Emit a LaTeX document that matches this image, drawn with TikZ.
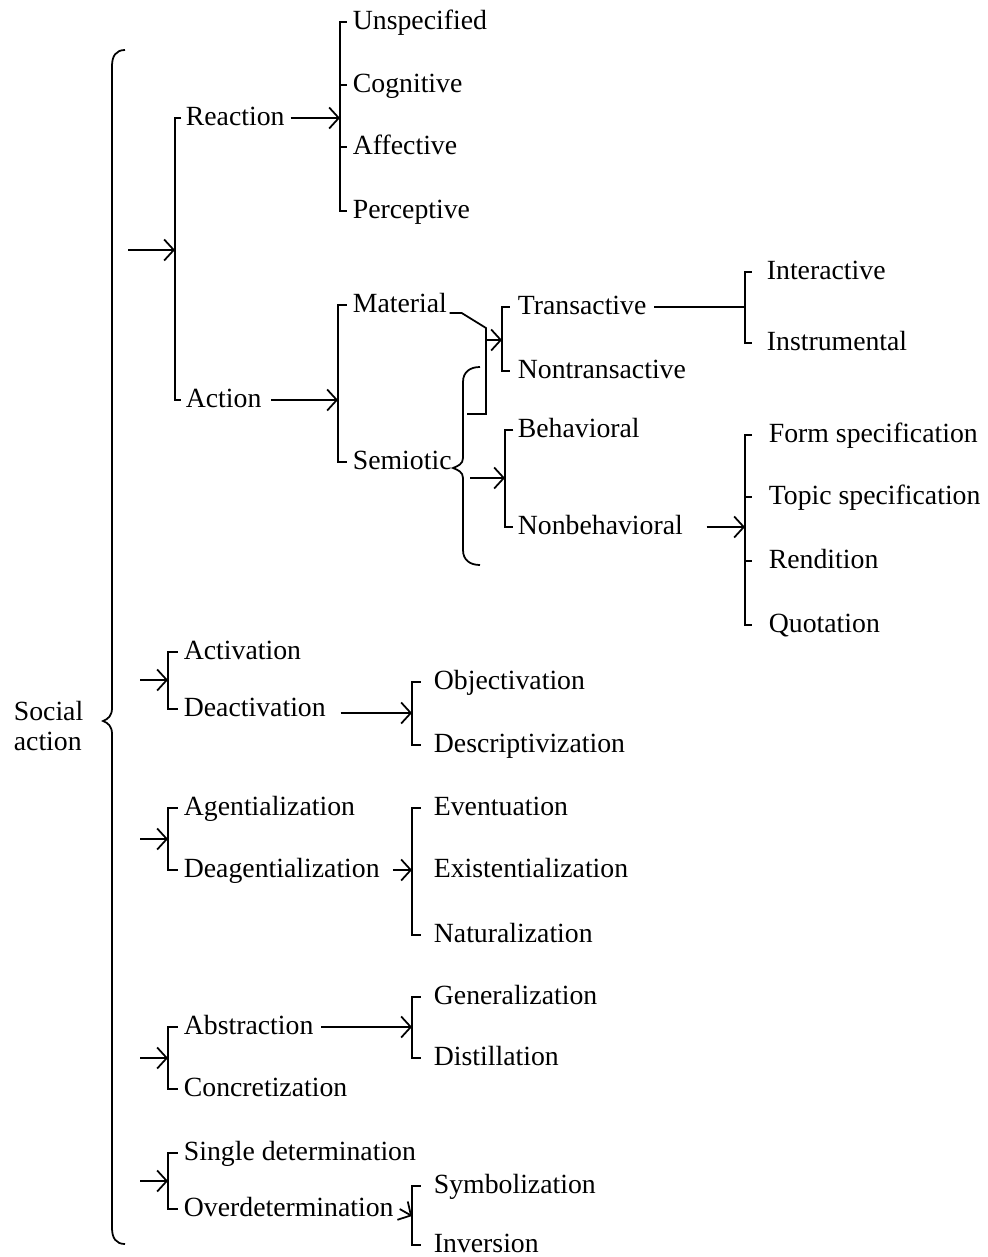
\documentclass[tikz,border=0pt]{standalone}
\usepackage{fontspec}
\setmainfont{Liberation Serif}
\usepackage{tikz}
\usetikzlibrary{arrows.meta, positioning, calc}

\tikzset{
    lbl/.style={anchor=west, inner sep=0pt, text height=11pt, text depth=2pt, font=\fontsize{15.8}{17}\selectfont},
    arr/.style={-{Straight Barb[length=5.5pt,width=12pt]}},
}

\begin{document}
\begin{tikzpicture}[x=0.02cm, y=-0.02cm, line width=1pt]
    \useasboundingbox (0,0) rectangle (987,1257);

    \node[anchor=west, inner sep=0pt, align=left, font=\fontsize{15.8}{17}\selectfont] (soc) at (13,726) {Social\\action};
    \draw (125,50) .. controls (116,50) and (112,56) .. (112,66) -- (112,708) .. controls (112,716) and (108,719) .. (103,721) .. controls (108,723) and (112,726) .. (112,734) -- (112,1228) .. controls (112,1238) and (116,1244) .. (125,1244);

    \coordinate (g1) at (128,250);
    \coordinate (g2) at (140,680);
    \coordinate (g3) at (140,839);
    \coordinate (g4) at (140,1058);
    \coordinate (g5) at (140,1181);
    \coordinate (brG1) at (175,250);
    \coordinate (brG2) at (168,680);
    \coordinate (brG3) at (168,839);
    \coordinate (brG4) at (168,1058);
    \coordinate (brG5) at (168,1181);

    \node[lbl] (reac) at (185,118) {Reaction};
    \node[lbl] (act) at (185,400) {Action};
    \node[lbl] (acti) at (183,652) {Activation};
    \node[lbl] (deac) at (183,709) {Deactivation};
    \node[lbl] (agen) at (183,808) {Agentialization};
    \node[lbl] (deag) at (183,870) {Deagentialization};
    \node[lbl] (abst) at (183,1027) {Abstraction};
    \node[lbl] (conc) at (183,1089) {Concretization};
    \node[lbl] (sing) at (183,1153) {Single determination};
    \node[lbl] (over) at (183,1209) {Overdetermination};

    \foreach \g in {1,...,5}
        \draw[arr] (g\g) -- (brG\g);
    \draw ([xshift=-2pt]reac.west) -| (brG1) |- ([xshift=-2pt]act.west);
    \draw ([xshift=-3pt]acti.west) -| (brG2) |- ([xshift=-3pt]deac.west);
    \draw ([xshift=-3pt]agen.west) -| (brG3) |- ([xshift=-3pt]deag.west);
    \draw ([xshift=-3pt]abst.west) -| (brG4) |- ([xshift=-3pt]conc.west);
    \draw ([xshift=-3pt]sing.west) -| (brG5) |- ([xshift=-3pt]over.west);

    \coordinate (brR) at (340,118);
    \node[lbl] (uns) at (352,22) {Unspecified};
    \node[lbl] (cog) at (352,85) {Cognitive};
    \node[lbl] (aff) at (352,147) {Affective};
    \node[lbl] (per) at (352,211) {Perceptive};
    \draw[arr] ([xshift=3pt]reac.east) -- (brR);
    \draw ([xshift=-3pt]uns.west) -| (brR) |- ([xshift=-3pt]per.west);
    \draw (brR |- cog.west) -- ([xshift=-3pt]cog.west);
    \draw (brR |- aff.west) -- ([xshift=-3pt]aff.west);

    \coordinate (brA) at (338,400);
    \node[lbl] (mat) at (352,305) {Material};
    \node[lbl] (sem) at (352,462) {Semiotic};
    \draw[arr] ([xshift=5pt]act.east) -- (brA);
    \draw ([xshift=-3pt]mat.west) -| (brA) |- ([xshift=-3pt]sem.west);

    \coordinate (brM) at (486,340);
    \coordinate (brT) at (502,340);
    \node[lbl] (tra) at (517,307) {Transactive};
    \node[lbl] (ntr) at (517,371) {Nontransactive};
    \draw ([xshift=1pt]mat.base east) -- ++(12,0) -- (486,328) -- (486,414) -- (467,414);
    \draw[arr] (brM) -- (brT);
    \draw ([xshift=-4pt]tra.west) -| (brT) |- ([xshift=-4pt]ntr.west);

    \draw (480,367) .. controls (470,367) and (463,372) .. (463,382) -- (463,458) .. controls (463,464) and (458,466) .. (453,468) .. controls (458,470) and (463,472) .. (463,478) -- (463,550) .. controls (463,560) and (470,565) .. (480,565);
    \coordinate (semb) at (470,478);
    \coordinate (brB) at (505,478);
    \node[lbl] (beh) at (517,430) {Behavioral};
    \node[lbl] (nbeh) at (517,527) {Nonbehavioral};
    \draw[arr] (semb) -- (brB);
    \draw ([xshift=-2pt]beh.west) -| (brB) |- ([xshift=-2pt]nbeh.west);

    \coordinate (brI) at (745,307);
    \node[lbl] (inte) at (766,272) {Interactive};
    \node[lbl] (inst) at (766,343) {Instrumental};
    \draw ([xshift=4pt]tra.east) -- (brI);
    \draw ([xshift=-8pt]inte.west) -| (brI) |- ([xshift=-8pt]inst.west);

    \coordinate (brF) at (745,527);
    \node[lbl] (fsp) at (768,435) {Form specification};
    \node[lbl] (tsp) at (768,497) {Topic specification};
    \node[lbl] (ren) at (768,561) {Rendition};
    \node[lbl] (quo) at (768,625) {Quotation};
    \draw[arr] ([xshift=13pt]nbeh.east) -- (brF);
    \draw ([xshift=-9pt]fsp.west) -| (brF) |- ([xshift=-9pt]quo.west);
    \draw (brF |- tsp.west) -- ([xshift=-9pt]tsp.west);
    \draw (brF |- ren.west) -- ([xshift=-9pt]ren.west);

    \coordinate (brO) at (412,713);
    \node[lbl] (obj) at (433,682) {Objectivation};
    \node[lbl] (desc) at (433,745) {Descriptivization};
    \draw[arr] ([xshift=8pt]deac.east |- brO) -- (brO);
    \draw ([xshift=-7pt]obj.west) -| (brO) |- ([xshift=-7pt]desc.west);

    \coordinate (brE) at (412,870);
    \node[lbl] (even) at (433,808) {Eventuation};
    \node[lbl] (exis) at (433,870) {Existentialization};
    \node[lbl] (natu) at (433,935) {Naturalization};
    \draw[arr] ([xshift=7pt]deag.east) -- (brE);
    \draw ([xshift=-7pt]even.west) -| (brE) |- ([xshift=-7pt]natu.west);

    \coordinate (brGe) at (412,1027);
    \node[lbl] (gene) at (433,997) {Generalization};
    \node[lbl] (dist) at (433,1058) {Distillation};
    \draw[arr] ([xshift=4pt]abst.east) -- (brGe);
    \draw ([xshift=-7pt]gene.west) -| (brGe) |- ([xshift=-7pt]dist.west);

    \coordinate (brS) at (412,1216);
    \node[lbl] (symb) at (433,1186) {Symbolization};
    \node[lbl] (inve) at (433,1245) {Inversion};
    \draw[arr] ([xshift=3pt]over.east) -- (brS);
    \draw ([xshift=-7pt]symb.west) -| (brS) |- ([xshift=-7pt]inve.west);
\end{tikzpicture}
\end{document}
